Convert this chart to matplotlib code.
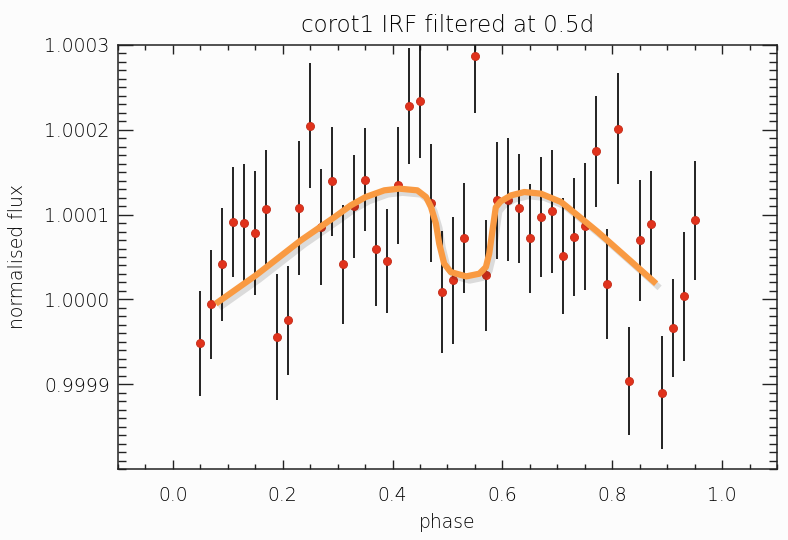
"""
corot1 IRF 相位折叠光变曲线
"""
import numpy as np
from matplotlib import pyplot as plt
from matplotlib import patheffects as pe
from matplotlib.ticker import MultipleLocator, FormatStrFormatter

# 数据点 (相位, 归一化流量, 误差)
phase = [0.05, 0.07, 0.09, 0.11, 0.13, 0.15, 0.17, 0.19, 0.21, 0.23,
         0.25, 0.27, 0.29, 0.31, 0.33, 0.35, 0.37, 0.39, 0.41, 0.43,
         0.45, 0.47, 0.49, 0.51, 0.53, 0.55, 0.57, 0.59, 0.61, 0.63,
         0.65, 0.67, 0.69, 0.71, 0.73, 0.75, 0.77, 0.79, 0.81, 0.83,
         0.85, 0.87, 0.89, 0.91, 0.93, 0.95]
flux = [0.9999484, 0.9999941, 1.0000413, 1.0000912, 1.0000905, 1.0000785,
        1.0001062, 0.9999555, 0.9999752, 1.0001077, 1.0002045, 1.0000853,
        1.0001392, 1.0000413, 1.0001097, 1.0001412, 1.0000590, 1.0000454,
        1.0001345, 1.0002277, 1.0002340, 1.0001136, 1.0000086, 1.0000224,
        1.0000720, 1.0002867, 1.0000283, 1.0001168, 1.0001176, 1.0001077,
        1.0000723, 1.0000971, 1.0001038, 1.0000511, 1.0000735, 1.0000861,
        1.0001746, 1.0000177, 1.0002014, 0.9999036, 1.0000696, 1.0000885,
        0.9998899, 0.9999661, 1.0000035, 1.0000932]
fluxErr = [0.618, 0.639, 0.663, 0.649, 0.688, 0.732, 0.700, 0.742, 0.639, 0.795,
           0.737, 0.688, 0.639, 0.704, 0.604, 0.608, 0.673, 0.612, 0.690, 0.683,
           0.674, 0.696, 0.722, 0.747, 0.649, 0.669, 0.659, 0.690, 0.722, 0.643,
           0.643, 0.708, 0.723, 0.688, 0.696, 0.747, 0.657, 0.649, 0.651, 0.639,
           0.710, 0.634, 0.667, 0.576, 0.761, 0.704]  # 单位 1e-4

# 模型曲线
modelPhase = [0.078, 0.151, 0.233, 0.293, 0.324, 0.351, 0.385, 0.412, 0.445,
              0.461, 0.470, 0.479, 0.485, 0.494, 0.506, 0.534, 0.558, 0.570,
              0.576, 0.582, 0.588, 0.597, 0.616, 0.640, 0.670, 0.707, 0.737,
              0.774, 0.822, 0.880]
modelFlux = [0.9999949, 1.0000283, 1.0000696, 1.0000964, 1.0001109, 1.0001207,
             1.0001286, 1.0001306, 1.0001286, 1.0001207, 1.0001089, 1.0000893,
             1.0000657, 1.0000421, 1.0000322, 1.0000271, 1.0000303, 1.0000381,
             1.0000539, 1.0000814, 1.0001086, 1.0001156, 1.0001227, 1.0001266,
             1.0001247, 1.0001148, 1.0000991, 1.0000794, 1.0000519, 1.0000185]

textColor = '#000000'
plt.rcParams['font.family'] = ['DejaVu Sans']
plt.rcParams['font.weight'] = 'light'

fig = plt.figure(figsize=(7.88, 5.40), dpi=100, facecolor='#fcfcfc')
ax = fig.add_axes([0.1497, 0.1315, 0.8363, 0.7852])
ax.set_facecolor('#fcfcfc')

ax.errorbar(phase, flux, yerr=np.array(fluxErr) * 1e-4, fmt='none',
            ecolor='#111111', elinewidth=1.3, capsize=0, zorder=2)
ax.plot(phase, flux, 'o', ms=5.8, color='#e0321c', mec='#c42a16', mew=0.6, zorder=3)
ax.plot(modelPhase, modelFlux, color='#f99a42', lw=4.5, solid_capstyle='butt',
        solid_joinstyle='round', zorder=4,
        path_effects=[pe.SimpleLineShadow(offset=(2.5, -3), shadow_color='k', alpha=0.13),
                      pe.Normal()])

ax.set_xlim(-0.1, 1.1)
ax.set_ylim(0.9998, 1.0003)
ax.xaxis.set_major_locator(MultipleLocator(0.2))
ax.xaxis.set_minor_locator(MultipleLocator(0.05))
ax.yaxis.set_major_locator(MultipleLocator(0.0001))
ax.yaxis.set_minor_locator(MultipleLocator(0.00001))
ax.xaxis.set_major_formatter(FormatStrFormatter('%.1f'))
ax.yaxis.set_major_formatter(FormatStrFormatter('%.4f'))
ax.set_yticks([0.9999, 1.0000, 1.0001, 1.0002, 1.0003])

ax.tick_params(axis='both', which='both', direction='in', colors='#222222',
               labelcolor=textColor, labelsize=13.5, width=1.0)
ax.tick_params(axis='x', which='both', top=True, bottom=True)
ax.tick_params(axis='x', which='major', length=6.5, pad=12)
ax.tick_params(axis='x', which='minor', length=3.3)
ax.tick_params(axis='y', which='both', left=True, right=True)
ax.tick_params(axis='y', which='major', length=10.5, pad=6)
ax.tick_params(axis='y', which='minor', length=5.8)
for s in ax.spines.values():
    s.set_color('#222222')
    s.set_linewidth(1.1)

ax.set_xlabel('phase', fontsize=13.5, fontweight='light', color=textColor, labelpad=6)
ax.set_ylabel('normalised flux', fontsize=13.5, fontweight='light', color=textColor, labelpad=12)
ax.set_title('corot1 IRF filtered at 0.5d', fontsize=16.5, fontweight='light',
             color=textColor, pad=9)

plt.savefig('out.png', dpi=100, facecolor=fig.get_facecolor())
